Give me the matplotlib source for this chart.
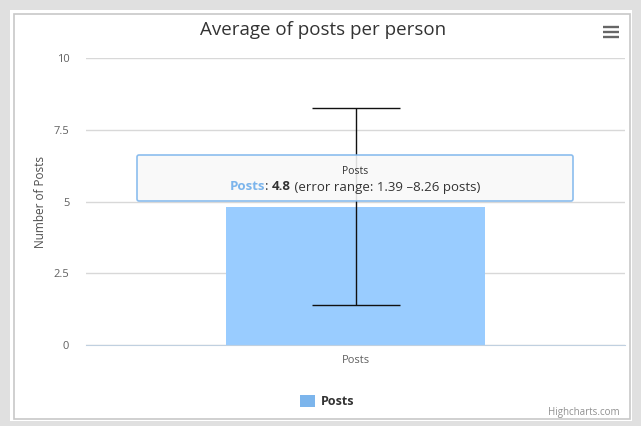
import matplotlib.pyplot as plt
from matplotlib.patches import Rectangle, FancyBboxPatch

categories = ["Posts"]
avg_posts = [4.8]
err_low = [1.39]
err_high = [8.26]
y_ticks = [0, 2.5, 5, 7.5, 10]
y_labels = ["0", "2.5", "5", "7.5", "10"]

W, H = 641, 426
fig = plt.figure(figsize=(W / 100, H / 100), dpi=100)
fig.patch.set_facecolor("#e0e0e0")
plt.rcParams["font.family"] = ["Open Sans", "DejaVu Sans"]

# white chart card with thin grey border
card = fig.add_axes([0, 0, 1, 1])
card.set_xlim(0, W)
card.set_ylim(H, 0)
card.axis("off")
card.add_patch(Rectangle((10, 10), 622, 411, facecolor="white", edgecolor="none"))
card.add_patch(Rectangle((13.5, 13.5), 616, 405, facecolor="none", edgecolor="#c8c8c8", lw=1.2))
# menu icon
for yy in (27, 32, 37):
    card.plot([603, 619], [yy, yy], color="#666666", lw=1.7, solid_capstyle="butt")

card.text(323, 30, "Average of posts per person", ha="center", va="center", fontsize=13.5, color="#333333")
card.text(620, 413, "Highcharts.com", ha="right", va="center", fontsize=7, color="#909090")
card.add_patch(Rectangle((300, 395), 15, 12, facecolor="#7cb5ec", edgecolor="none"))
card.text(321, 401.5, "Posts", ha="left", va="center", fontsize=9, color="#333333", fontweight="bold")

# plot area
left, right, top, bottom = 86, 625, 58, 345
ax = fig.add_axes([left / W, 1 - bottom / H, (right - left) / W, (bottom - top) / H])
ax.set_facecolor("none")
x = list(range(len(categories)))
ax.bar(x, avg_posts, width=0.48, color="#99ccff", zorder=2)
for xi, v, lo, hi in zip(x, avg_posts, err_low, err_high):
    ax.errorbar([xi], [v], yerr=[[v - lo], [hi - v]], fmt="none", ecolor="#111111",
                elinewidth=1, capsize=32, capthick=1, zorder=3)
ax.set_xlim(-0.5, 0.5)
ax.set_ylim(0, 10)
ax.set_yticks(y_ticks)
ax.set_yticklabels(y_labels)
ax.set_xticks(x)
ax.set_xticklabels(categories)
ax.grid(axis="y", color="#d8d8d8", lw=1, zorder=0)
for s in ax.spines.values():
    s.set_visible(False)
ax.spines["bottom"].set_visible(True)
ax.spines["bottom"].set_color("#c0d0e0")
ax.tick_params(axis="y", length=0, pad=12, labelsize=8, labelcolor="#606060")
ax.tick_params(axis="x", length=0, pad=7, labelsize=8, labelcolor="#606060")
ax.set_ylabel("Number of Posts", fontsize=8.5, color="#4d4d4d", labelpad=5)

# tooltip
tip = fig.add_axes([0, 0, 1, 1], zorder=5)
tip.set_xlim(0, W)
tip.set_ylim(H, 0)
tip.axis("off")
tip.add_patch(FancyBboxPatch((137, 155), 436, 46, boxstyle="round,pad=0,rounding_size=2",
                             facecolor="#f9f9f9", alpha=0.88, edgecolor="#7cb5ec", lw=1.2))
tip.text(355, 171, "Posts", ha="center", va="center", fontsize=7.5, color="#333333")

# second line: pieces laid out one after another
pieces = [("Posts", "#7cb5ec", "bold"), (": ", "#333333", "normal"),
          ("4.8", "#333333", "bold"), (" (error range: 1.39 \u20138.26 posts)", "#333333", "normal")]
renderer = fig.canvas.get_renderer()
texts = []
for s, c, wgt in pieces:
    t = tip.text(0, 187, s, ha="left", va="center", fontsize=9.5, color=c, fontweight=wgt)
    texts.append(t)
widths = [t.get_window_extent(renderer).width for t in texts]
xpos = 355 - sum(widths) / 2
for t, w in zip(texts, widths):
    t.set_x(xpos)
    xpos += w

fig.savefig("out.png", dpi=100)
